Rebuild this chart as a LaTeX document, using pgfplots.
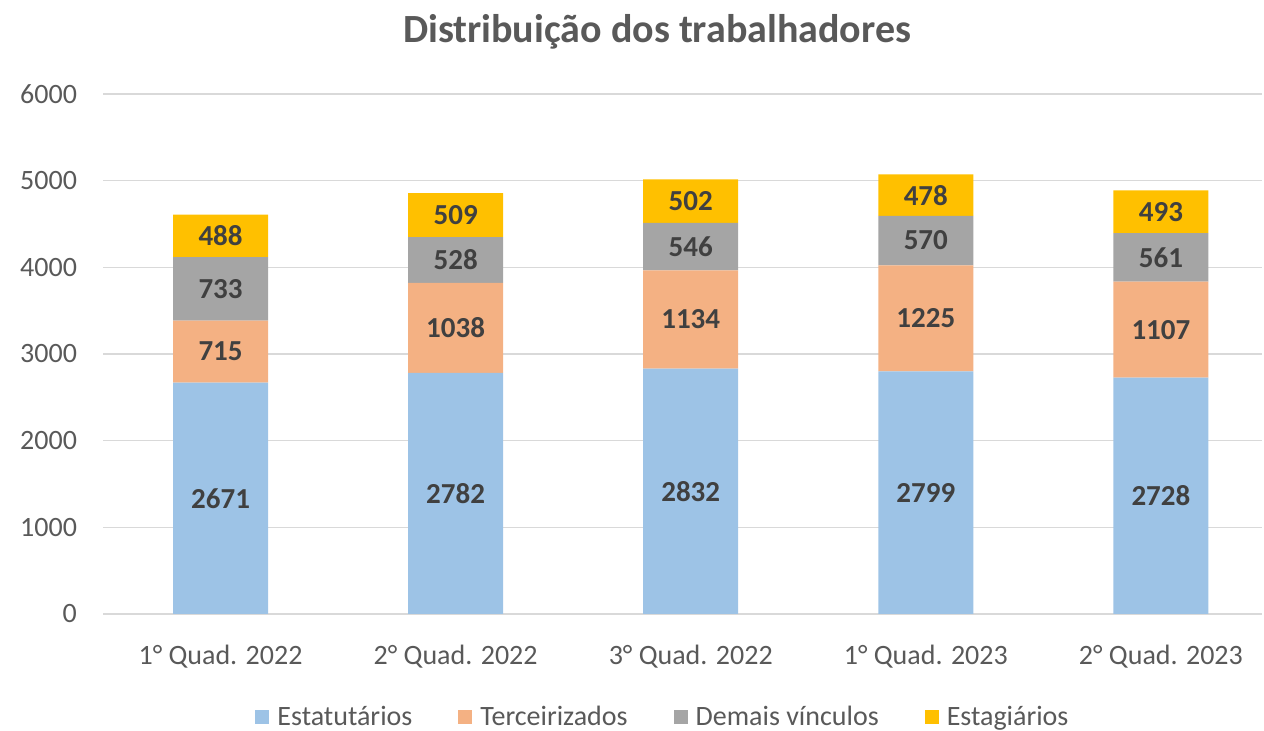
\documentclass[border=0pt]{standalone}
\usepackage{pgfplots}
\pgfplotsset{compat=1.18}
\usepackage{fontspec}
\setmainfont{Carlito}
\definecolor{cBlue}{HTML}{9DC3E6}
\definecolor{cOrange}{HTML}{F4B183}
\definecolor{cGray}{HTML}{A5A5A5}
\definecolor{cYellow}{HTML}{FFC000}
\definecolor{txt}{HTML}{595959}
\definecolor{lbl}{HTML}{404040}
\definecolor{gridc}{HTML}{D9D9D9}
\begin{document}
\begin{tikzpicture}
\useasboundingbox (0,0) rectangle (632pt,365.5pt);
\node[font=\fontsize{20}{24}\selectfont\bfseries, text=txt] at (328.5pt,349.5pt) {Distribuição dos trabalhadores};
\begin{axis}[
  at={(51.5pt,58.5pt)}, anchor=south west,
  scale only axis, width=579.5pt, height=260pt,
  ybar stacked, bar width=47.5pt,
  xmin=-0.5, xmax=4.43, ymin=0, ymax=6000,
  xtick=data,
  xticklabels={1° Quad. 2022, 2° Quad. 2022, 3° Quad. 2022, 1° Quad. 2023, 2° Quad. 2023},
  ytick={0,1000,...,6000},
  axis line style={draw=none},
  major tick length=0pt,
  ymajorgrids, grid style={gridc, line width=0.8pt},
  ticklabel style={font=\fontsize{14}{17}\selectfont, text=txt},
  xticklabel style={yshift=-12pt},
  yticklabel style={xshift=-9.5pt},
  scaled y ticks=false,
  /pgf/number format/assume math mode=true,
  yticklabel={\pgfmathprintnumber[fixed,1000 sep={}]{\tick}},
  visualization depends on={rawy \as \rawy},
  nodes near coords={\pgfmathprintnumber[fixed,1000 sep={}]{\rawy}},
  every node near coord/.append style={font=\fontsize{14.5}{17}\selectfont\bfseries, text=lbl, anchor=center},
  legend style={at={(0.484,-0.198)}, anchor=center, draw=none, legend columns=4, font=\fontsize{14}{17}\selectfont, text=txt, /tikz/every even column/.append style={column sep=21pt}, /tikz/every odd column/.append style={column sep=2pt}},
  legend image code/.code={\draw[#1, draw=none] (0cm,-3.5pt) rectangle (7pt,3.5pt);},
]
\addplot[fill=cBlue, draw=none] coordinates {(0,2671) (1,2782) (2,2832) (3,2799) (4,2728)};
\addplot[fill=cOrange, draw=none] coordinates {(0,715) (1,1038) (2,1134) (3,1225) (4,1107)};
\addplot[fill=cGray, draw=none] coordinates {(0,733) (1,528) (2,546) (3,570) (4,561)};
\addplot[fill=cYellow, draw=none] coordinates {(0,488) (1,509) (2,502) (3,478) (4,493)};
\legend{Estatutários, Terceirizados, Demais vínculos, Estagiários}
\end{axis}
\end{tikzpicture}
\end{document}
